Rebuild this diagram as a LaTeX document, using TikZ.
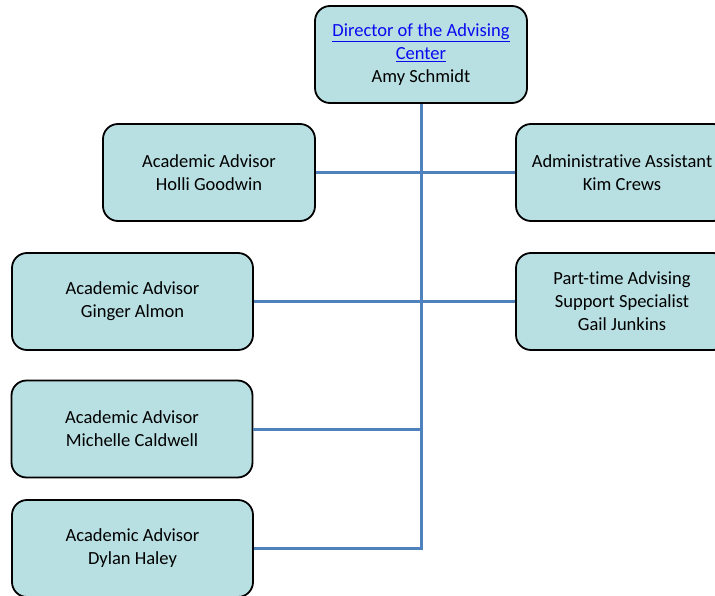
\documentclass[tikz,border=0pt]{standalone}
\usepackage{fontspec}
\setmainfont[RawFeature=-liga]{Carlito}
\usetikzlibrary{positioning}

\definecolor{boxfill}{RGB}{184,223,226}
\definecolor{linkblue}{RGB}{10,10,240}
\definecolor{wire}{RGB}{79,129,189}

\newcommand{\weblink}[1]{\textcolor{linkblue}{\underline{#1}}}

\begin{document}
\begin{tikzpicture}[x=1pt, y=-1pt,
	post/.style={draw=black, line width=1.8pt, fill=boxfill, rounded corners=15pt,
		align=center, minimum height=97pt, inner sep=2pt,
		font=\fontsize{18.5}{23}\selectfont},
	narrow/.style={post, minimum width=212pt},
	wide/.style={post, minimum width=241pt},
	link/.style={draw=wire, line width=3pt}]
	\path[use as bounding box, clip] (0,0) rectangle (715,596);

	% top of the chart
	\node[narrow] (director) at (421,54.5) {\weblink{Director of the Advising}\\ \weblink{Center}\\ Amy Schmidt};

	% left column
	\node[narrow] (holli)    at (209,172.5) {Academic Advisor\\ Holli Goodwin};
	\node[wide]   (ginger)   at (132.5,301.5) {Academic Advisor\\ Ginger Almon};
	\node[wide]   (michelle) at (132,429) {Academic Advisor\\ Michelle Caldwell};
	\node[wide]   (dylan)    at (132.5,548.5) {Academic Advisor\\ Dylan Haley};

	% right column
	\node[narrow] (kim)  at (622,172.5) {Administrative Assistant\\ Kim Crews};
	\node[narrow] (gail) at (622,301.5) {Part-time Advising\\ Support Specialist\\ Gail Junkins};

	\draw[link] (director.south) |- (dylan.east);
	\draw[link] (holli.east) -- (kim.west);
	\draw[link] (ginger.east) -- (gail.west);
	\draw[link] (michelle.east) -- (michelle.east -| director.south);
\end{tikzpicture}
\end{document}
